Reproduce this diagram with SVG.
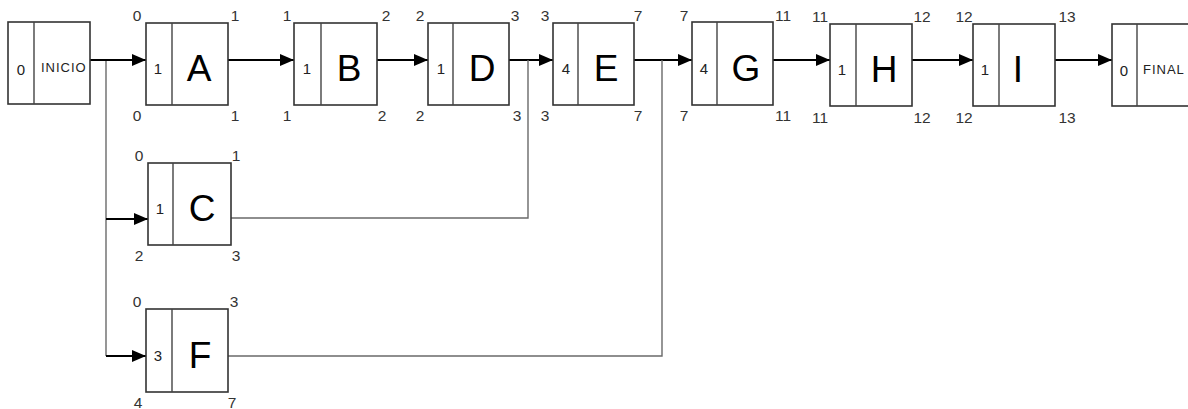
<svg xmlns="http://www.w3.org/2000/svg" width="1188" height="409" viewBox="0 0 1188 409">
<style>
.box{fill:#fff;stroke:#333;stroke-width:1.6}
.div{stroke:#444;stroke-width:1.4}
.big{font-family:"Liberation Sans",Arial,sans-serif;font-size:37px;fill:#000;text-anchor:middle}
.dur{font-family:"Liberation Sans",Arial,sans-serif;font-size:15px;fill:#222;text-anchor:middle}
.cor{font-family:"Liberation Sans",Arial,sans-serif;font-size:15.5px;fill:#333;text-anchor:middle}
.sm{font-family:"Liberation Sans",Arial,sans-serif;font-size:13px;fill:#222;text-anchor:start;letter-spacing:1px}
.main{fill:none;stroke:#000;stroke-width:2}
.thin{fill:none;stroke:#6a6a6a;stroke-width:1.4}
</style>
<defs>
<marker id="ah" markerUnits="userSpaceOnUse" markerWidth="14" markerHeight="14" refX="14" refY="7" orient="auto">
<path d="M0,1 L14,7 L0,13 Z" fill="#000"/>
</marker>
</defs>
<g id="connectors">
<path class="thin" d="M106,60 V356"/>
<path class="main" d="M106,219 H148" marker-end="url(#ah)"/>
<path class="main" d="M106,356 H146" marker-end="url(#ah)"/>
<path class="main" d="M90,60 H146" marker-end="url(#ah)"/>
<path class="main" d="M228,60 H294" marker-end="url(#ah)"/>
<path class="main" d="M377,60 H428" marker-end="url(#ah)"/>
<path class="main" d="M509,60 H553" marker-end="url(#ah)"/>
<path class="main" d="M634,60 H692" marker-end="url(#ah)"/>
<path class="main" d="M773,60 H830" marker-end="url(#ah)"/>
<path class="main" d="M912,60 H973" marker-end="url(#ah)"/>
<path class="main" d="M1055,60 H1112" marker-end="url(#ah)"/>
<path class="thin" d="M231,218 H528 V60"/>
<path class="thin" d="M228,356 H662 V60"/>
</g>
<g id="INICIO">
<rect class="box" x="8" y="22" width="82" height="82"/>
<line class="div" x1="34" y1="22" x2="34" y2="104"/>
<text class="dur" x="21" y="75">0</text>
<text class="sm" x="41" y="72">INICIO</text>
</g>
<g id="A">
<rect class="box" x="146" y="23" width="82" height="82"/>
<line class="div" x1="172" y1="23" x2="172" y2="105"/>
<text class="dur" x="158" y="74">1</text>
<text class="big" x="199" y="81">A</text>
<text class="cor" x="137" y="21">0</text><text class="cor" x="235" y="21">1</text>
<text class="cor" x="137" y="121">0</text><text class="cor" x="235" y="121">1</text>
</g>
<g id="B">
<rect class="box" x="294" y="23" width="83" height="82"/>
<line class="div" x1="321" y1="23" x2="321" y2="105"/>
<text class="dur" x="307" y="74">1</text>
<text class="big" x="349" y="81">B</text>
<text class="cor" x="287" y="21">1</text><text class="cor" x="386" y="21">2</text>
<text class="cor" x="287" y="121">1</text><text class="cor" x="382" y="121">2</text>
</g>
<g id="D">
<rect class="box" x="428" y="23" width="81" height="82"/>
<line class="div" x1="453" y1="23" x2="453" y2="105"/>
<text class="dur" x="441" y="74">1</text>
<text class="big" x="482" y="81">D</text>
<text class="cor" x="420" y="21">2</text><text class="cor" x="515" y="21">3</text>
<text class="cor" x="420" y="121">2</text><text class="cor" x="517" y="121">3</text>
</g>
<g id="E">
<rect class="box" x="553" y="23" width="81" height="82"/>
<line class="div" x1="578" y1="23" x2="578" y2="105"/>
<text class="dur" x="566" y="74">4</text>
<text class="big" x="606" y="81">E</text>
<text class="cor" x="545" y="21">3</text><text class="cor" x="638" y="21">7</text>
<text class="cor" x="545" y="121">3</text><text class="cor" x="638" y="121">7</text>
</g>
<g id="G">
<rect class="box" x="692" y="22" width="81" height="83"/>
<line class="div" x1="717" y1="22" x2="717" y2="105"/>
<text class="dur" x="704" y="74">4</text>
<text class="big" x="746" y="81">G</text>
<text class="cor" x="684" y="21">7</text><text class="cor" x="783" y="21">11</text>
<text class="cor" x="684" y="121">7</text><text class="cor" x="783" y="121">11</text>
</g>
<g id="H">
<rect class="box" x="830" y="24" width="82" height="82"/>
<line class="div" x1="856" y1="24" x2="856" y2="106"/>
<text class="dur" x="842" y="75">1</text>
<text class="big" x="884" y="82">H</text>
<text class="cor" x="820" y="22">11</text><text class="cor" x="922" y="22">12</text>
<text class="cor" x="820" y="123">11</text><text class="cor" x="922" y="123">12</text>
</g>
<g id="I">
<rect class="box" x="973" y="24" width="82" height="82"/>
<line class="div" x1="999" y1="24" x2="999" y2="106"/>
<text class="dur" x="985" y="75">1</text>
<text class="big" x="1018" y="82">I</text>
<text class="cor" x="964" y="22">12</text><text class="cor" x="1067" y="22">13</text>
<text class="cor" x="964" y="123">12</text><text class="cor" x="1067" y="123">13</text>
</g>
<g id="FINAL">
<rect class="box" x="1112" y="24" width="90" height="82"/>
<line class="div" x1="1137" y1="24" x2="1137" y2="106"/>
<text class="dur" x="1124" y="76">0</text>
<text class="sm" x="1143" y="74">FINAL</text>
</g>
<g id="C">
<rect class="box" x="148" y="163" width="83" height="82"/>
<line class="div" x1="173" y1="163" x2="173" y2="245"/>
<text class="dur" x="160" y="214">1</text>
<text class="big" x="202" y="221">C</text>
<text class="cor" x="139" y="161">0</text><text class="cor" x="236" y="161">1</text>
<text class="cor" x="139" y="261">2</text><text class="cor" x="236" y="261">3</text>
</g>
<g id="F">
<rect class="box" x="146" y="309" width="82" height="83"/>
<line class="div" x1="172" y1="309" x2="172" y2="392"/>
<text class="dur" x="158" y="361">3</text>
<text class="big" x="200" y="368">F</text>
<text class="cor" x="137" y="307">0</text><text class="cor" x="234" y="307">3</text>
<text class="cor" x="138" y="408">4</text><text class="cor" x="232" y="408">7</text>
</g>
</svg>
